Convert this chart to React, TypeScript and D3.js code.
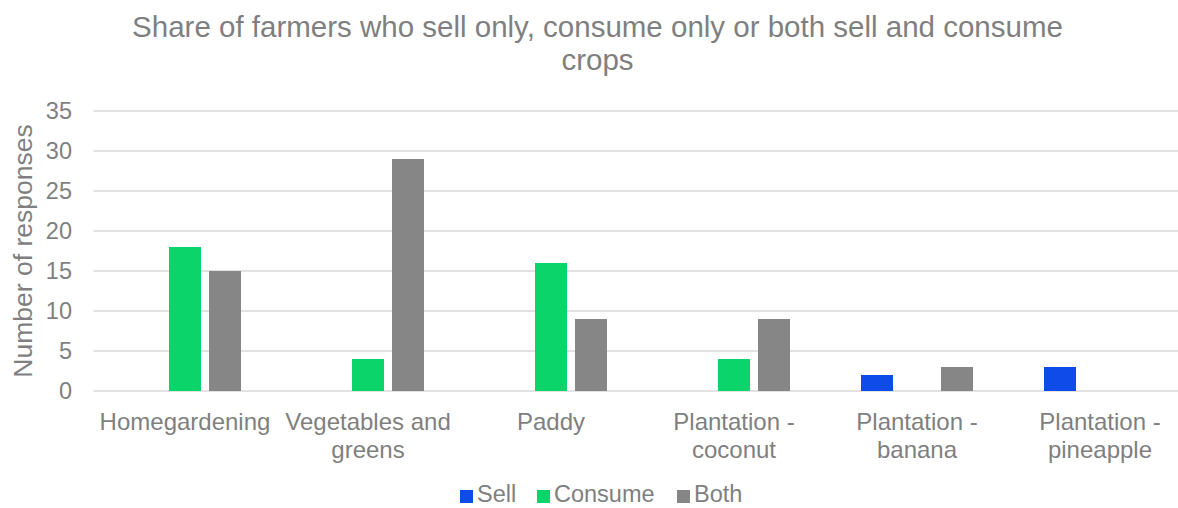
import React from "react";
import * as d3 from "d3";

const categories = [
  "Homegardening",
  "Vegetables and greens",
  "Paddy",
  "Plantation - coconut",
  "Plantation - banana",
  "Plantation - pineapple",
];
const categoryLines = [
  ["Homegardening"],
  ["Vegetables and", "greens"],
  ["Paddy"],
  ["Plantation -", "coconut"],
  ["Plantation -", "banana"],
  ["Plantation -", "pineapple"],
];
const seriesNames = ["Sell", "Consume", "Both"];
const sellValues = [0, 0, 0, 0, 2, 3];
const consumeValues = [18, 4, 16, 4, 0, 0];
const bothValues = [15, 29, 9, 9, 3, 0];
const yTicks = [0, 5, 10, 15, 20, 25, 30, 35];
const colors = ["#0F4BE8", "#0BD46A", "#868686"];

const W = 1178;
const H = 508;
const left = 93.5;
const right = 1191.5;
const top = 111;
const bottom = 391;
const textColor = "#7F7F7F";
const font = "Liberation Sans, Arial, sans-serif";

export default function App() {
  const x = d3.scaleBand<string>().domain(categories).range([left, right]).padding(0);
  const inner = d3.scaleBand<string>().domain(seriesNames).range([-56, 56]).paddingInner(0.2);
  const y = d3.scaleLinear().domain([0, 35]).range([bottom, top]);
  const allSeries = [sellValues, consumeValues, bothValues];

  return (
    <svg
      width={W}
      height={H}
      style={{ position: "absolute", left: 0, top: 0, background: "#fff" }}
      fontFamily={font}
    >
      <text x={597.5} y={37} textAnchor="middle" fontSize={29.5} fill={textColor}>
        Share of farmers who sell only, consume only or both sell and consume
      </text>
      <text x={597.5} y={70} textAnchor="middle" fontSize={29.5} fill={textColor}>
        crops
      </text>
      {yTicks.map((t) => (
        <g key={t}>
          <line x1={left} x2={right} y1={y(t)} y2={y(t)} stroke="#D9D9D9" strokeWidth={1.5} />
          <text x={72} y={y(t) + 8} textAnchor="end" fontSize={23.5} fill={textColor}>
            {t}
          </text>
        </g>
      ))}
      <text
        transform={`translate(32, ${(top + bottom) / 2}) rotate(-90)`}
        textAnchor="middle"
        fontSize={26.5}
        fill={textColor}
      >
        Number of responses
      </text>
      {categories.map((c, i) => {
        const cx = (x(c) as number) + x.bandwidth() / 2;
        return (
          <g key={c}>
            {allSeries.map((vals, si) => {
              const v = vals[i];
              if (!v) return null;
              const bx = cx + (inner(seriesNames[si]) as number);
              return (
                <rect
                  key={si}
                  x={bx}
                  y={y(v)}
                  width={inner.bandwidth()}
                  height={y(0) - y(v)}
                  fill={colors[si]}
                />
              );
            })}
            {categoryLines[i].map((ln, li) => (
              <text key={li} x={cx} y={430 + li * 28} textAnchor="middle" fontSize={24} fill={textColor}>
                {ln}
              </text>
            ))}
          </g>
        );
      })}
      {(() => {
        const xs = [460, 537, 677];
        return seriesNames.map((s, i) => (
          <g key={s}>
            <rect x={xs[i]} y={490} width={13} height={13} fill={colors[i]} />
            <text x={xs[i] + 17} y={502} fontSize={23.5} fill={textColor}>
              {s}
            </text>
          </g>
        ));
      })()}
    </svg>
  );
}
